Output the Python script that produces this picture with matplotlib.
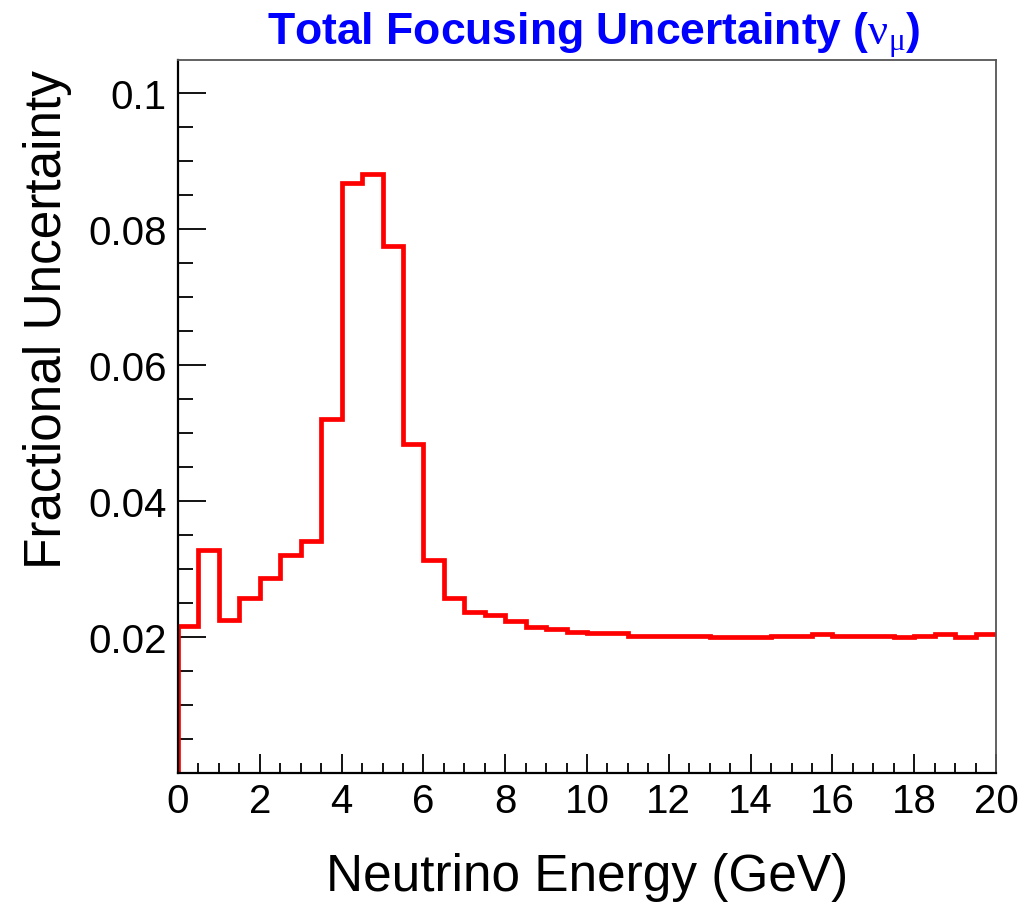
import numpy as np
import matplotlib
matplotlib.use("Agg")
import matplotlib.pyplot as plt

plt.rcParams['font.family'] = ['Liberation Sans', 'DejaVu Sans']
plt.rcParams['mathtext.fontset'] = 'custom'
plt.rcParams['mathtext.rm'] = 'Liberation Serif'

# 0.5 GeV bins from 0 to 20 GeV
bin_edges = np.linspace(0, 20, 41)
frac_unc = [0.0216, 0.0327, 0.0224, 0.0256, 0.0286, 0.0320, 0.0341, 0.0520,
            0.0867, 0.0880, 0.0774, 0.0483, 0.0313, 0.0256, 0.02355, 0.0231,
            0.0223, 0.0214, 0.0211, 0.0207, 0.0205, 0.0205, 0.0201, 0.0201,
            0.0201, 0.0201, 0.0199, 0.0199, 0.0199, 0.0201, 0.0201, 0.0204,
            0.0201, 0.0201, 0.0201, 0.0199, 0.0201, 0.0204, 0.0199, 0.0204]

x_ticks = [0, 2, 4, 6, 8, 10, 12, 14, 16, 18, 20]
y_ticks = [0.02, 0.04, 0.06, 0.08, 0.1]
y_tick_labels = ['0.02', '0.04', '0.06', '0.08', '0.1']

fig = plt.figure(figsize=(10.36, 9.03), dpi=100)
ax = fig.add_axes([178/1036, 1 - 773.5/903, 818/1036, 712.5/903])

# histogram outline, starting from zero at the left edge like ROOT does
xs = np.concatenate([[bin_edges[0]], np.repeat(bin_edges, 2)[1:-1]])
ys = np.concatenate([[0.0], np.repeat(frac_unc, 2)])
ax.plot(xs, ys, color='#ff0000', lw=3.4, solid_joinstyle='miter', solid_capstyle='butt')

ax.set_xlim(0, 20)
ax.set_ylim(0, 0.1048)
ax.set_xticks(x_ticks)
ax.set_xticks(np.arange(0, 20.01, 0.5), minor=True)
ax.set_yticks(y_ticks)
ax.set_yticklabels(y_tick_labels)
ax.set_yticks(np.arange(0, 0.1049, 0.005), minor=True)

ax.tick_params(axis='both', which='both', direction='in', width=1.3, colors='black',
               top=False, right=False, labelsize=29)
ax.tick_params(axis='x', which='major', length=14, pad=7)
ax.tick_params(axis='x', which='minor', length=7)
ax.tick_params(axis='y', which='major', length=20, pad=8)
ax.tick_params(axis='y', which='minor', length=11)

for side in ['left', 'bottom']:
    ax.spines[side].set_linewidth(1.6)
    ax.spines[side].set_color('black')
for side in ['top', 'right']:
    ax.spines[side].set_linewidth(1.3)
    ax.spines[side].set_color('#555555')

ax.set_xlabel('Neutrino Energy (GeV)', fontsize=37)
ax.xaxis.set_label_coords(0.5, -0.111)
ax.set_ylabel('Fractional Uncertainty', fontsize=37, loc='top')
ax.yaxis.set_label_coords(-0.130, 0.988)

fig.text(594/1036, 1 - 45/903, r'Total Focusing Uncertainty ($\mathrm{\nu_{\mu}}$)',
         color='#0000ff', fontsize=32, fontweight='bold', ha='center', va='baseline')

fig.savefig('out.png', dpi=100)
